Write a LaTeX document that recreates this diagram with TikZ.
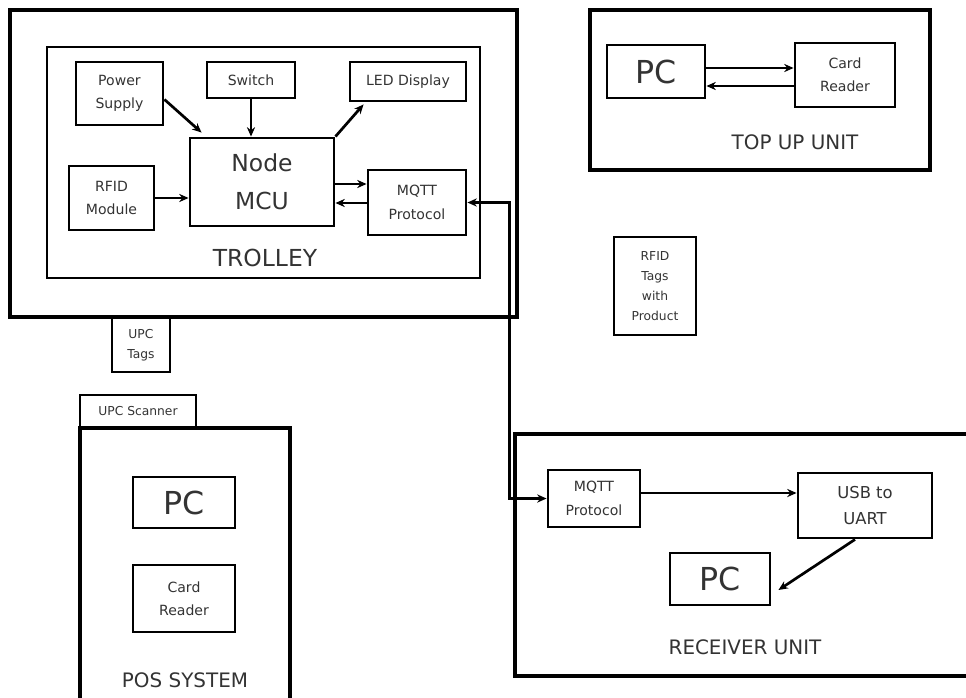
\documentclass[tikz,border=0pt]{standalone}
\usepackage{fontspec}
\setmainfont{DejaVu Sans}
\usetikzlibrary{arrows.meta,calc}

\begin{document}
\begin{tikzpicture}[x=0.03cm,y=-0.03cm,>={Stealth[length=8pt,width=7pt]},
  unit/.style={draw,line width=3pt},
  box/.style={draw,line width=2.5pt,align=center,inner sep=1pt,text=black!80,font=\fontsize{12}{20}\selectfont},
  big/.style={box,font=\fontsize{27}{30}\selectfont},
  tiny/.style={box,font=\fontsize{10.5}{17}\selectfont},
  lbl/.style={text=black!80,font=\fontsize{17}{19}\selectfont},
  arr/.style={->,line width=2.3pt}]
  \useasboundingbox (0,0) rectangle (966,698);
  % trolley
  \node[unit,minimum width=15.21cm,minimum height=9.21cm] (trolley) at (263.5,163.5) {};
  \node[unit,line width=2.5pt,minimum width=12.99cm,minimum height=6.93cm] (board) at (263.5,162.5) {};
  \node[box,minimum width=2.61cm,minimum height=1.89cm] (power) at (119.5,93.5) {Power\\Supply};
  \node[box,minimum width=2.64cm,minimum height=1.08cm] (switch) at (251,80) {Switch};
  \node[box,minimum width=3.48cm,minimum height=1.17cm] (led) at (408,81.5) {LED Display};
  \node[box,font=\fontsize{20}{32}\selectfont,minimum width=4.32cm,minimum height=2.64cm] (mcu) at (262,182) {Node\\MCU};
  \node[box,minimum width=2.55cm,minimum height=1.92cm] (rfid) at (111.5,198) {RFID\\Module};
  \node[box,minimum width=2.94cm,minimum height=1.95cm] (mqtt) at (417,202.5) {MQTT\\Protocol};
  \node[lbl,font=\fontsize{20}{22}\selectfont] (trolleylbl) at (265,258) {TROLLEY};
  \draw[arr] ($(power.east)+(0,6)$) -- ($(mcu.north west)+(13,-4)$);
  \draw[arr] (switch.south) -- (switch.south |- mcu.north);
  \draw[arr] (mcu.north east) -- ($(led.south west)+(15,2)$);
  \draw[arr] (rfid.east) -- (rfid.east -| mcu.west);
  \draw[arr] (mcu.east |- 0,184) -- (mqtt.west |- 0,184);
  \draw[arr] (mqtt.west |- 0,203) -- (mcu.east |- 0,203);
  % top up unit
  \node[unit,minimum width=10.2cm,minimum height=4.8cm] (topup) at (760,90) {};
  \node[big,minimum width=2.94cm,minimum height=1.59cm] (pc1) at (656,71.5) {PC};
  \node[box,minimum width=3cm,minimum height=1.92cm] (card1) at (845,75) {Card\\Reader};
  \node[lbl] (topuplbl) at (795,142) {TOP UP UNIT};
  \draw[arr] (pc1.east |- 0,68) -- (card1.west |- 0,68);
  \draw[arr] (card1.west |- 0,86) -- (pc1.east |- 0,86);
  \node[tiny,minimum width=2.46cm,minimum height=2.94cm] (tags) at (655,286) {RFID\\Tags\\with\\Product};
  % pos system
  \node[tiny,minimum width=1.74cm,minimum height=1.62cm] (upctags) at (141,345) {UPC\\Tags};
  \node[tiny,minimum width=3.48cm,minimum height=0.99cm] (scanner) at (138,411.5) {UPC Scanner};
  \node[unit,minimum width=6.3cm,minimum height=8.16cm] (pos) at (185,564) {};
  \node[big,minimum width=3.06cm,minimum height=1.53cm] (pc2) at (184,502.5) {PC};
  \node[box,minimum width=3.06cm,minimum height=2.01cm] (card2) at (184,598.5) {Card\\Reader};
  \node[lbl] (poslbl) at (185,680) {POS SYSTEM};
  % receiver unit
  \node[unit,minimum width=13.8cm,minimum height=7.26cm] (receiver) at (745,555) {};
  \node[box,minimum width=2.76cm,minimum height=1.71cm] (rxmqtt) at (594,498.5) {MQTT\\Protocol};
  \node[box,font=\fontsize{14}{22}\selectfont,minimum width=4.02cm,minimum height=1.95cm] (usb) at (865,505.5) {USB to\\UART};
  \node[big,minimum width=3cm,minimum height=1.56cm] (pc3) at (720,579) {PC};
  \node[lbl] (rxlbl) at (745,647) {RECEIVER UNIT};
  \draw[arr] (rxmqtt.east |- 0,493) -- (usb.west |- 0,493);
  \draw[arr] ($(usb.south)+(-10,0)$) -- ($(pc3.east)+(7,11)$);
  \draw[<->,line width=2.3pt] (mqtt.east) -- ++(42,0) |- (rxmqtt.west);
\end{tikzpicture}
\end{document}
